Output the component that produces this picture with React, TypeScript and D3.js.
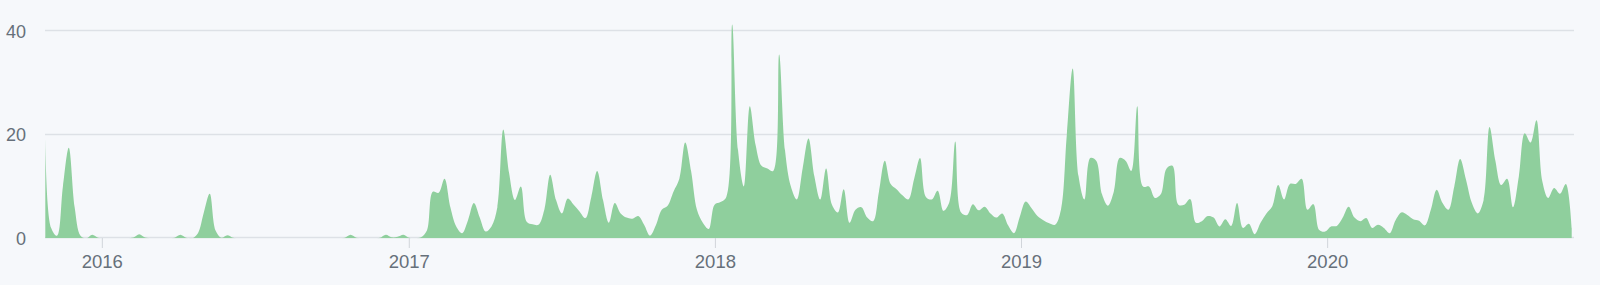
import React, { useEffect } from 'react';
import * as d3 from 'd3';

// First week (Sunday) of the weekly series
const START_WEEK = [2015, 9, 25];

// Weekly commit counts, Oct 2015 – Oct 2020
const WEEKLY_COMMITS: number[] = [
  20, 2, 0.5, 10, 17.5, 6, 0.5, 0, 0.7, 0.1,
  0, 0, 0, 0, 0, 0.15, 0.8, 0.15, 0, 0,
  0, 0, 0.1, 0.7, 0.1, 0, 1, 5, 8.6, 1.5,
  0.1, 0.6, 0.1, 0, 0, 0, 0, 0, 0, 0,
  0, 0, 0, 0, 0, 0, 0, 0, 0, 0,
  0, 0.1, 0.7, 0.1, 0, 0, 0, 0.1, 0.7, 0.2,
  0.3, 0.7, 0.1, 0, 0.2, 1.5, 9, 8.8, 11.5, 6,
  2.3, 1, 3.5, 6.8, 4, 1.3, 2.3, 6, 21, 12.6,
  7.4, 10, 3.2, 2.7, 2.6, 5.5, 12.3, 7.4, 4.8, 7.7,
  6.5, 5.2, 3.9, 8, 13, 7.4, 3, 6.8, 4.8, 4,
  3.8, 4.3, 2.6, 0.5, 2.5, 5.5, 6.3, 9, 11.5, 18.5,
  13, 5.5, 3, 1.8, 6.5, 7, 8, 41.3, 17, 10,
  25.5, 18, 14, 13.5, 13, 35.5, 17, 10, 7.5, 13.5,
  19.3, 12, 7.5, 13.5, 6.5, 5, 9.5, 3, 5.5, 6,
  4, 3.3, 9, 15, 10.5, 9.5, 8.3, 7.5, 11.5, 15.5,
  8, 7.5, 9.2, 5.3, 7, 18.7, 5, 4.5, 6.6, 5.4,
  6.1, 4.8, 4, 4.8, 2.5, 1, 4.2, 7.1, 5.8, 4.3,
  3.5, 2.9, 2.6, 5.5, 20, 32.8, 12, 7.5, 15.5, 15,
  8.5, 6.3, 9, 15.5, 15, 13, 25.5, 10, 10, 7.8,
  8.5, 13.5, 14, 6.5, 6.5, 7.6, 3, 3.3, 4.3, 4,
  2.3, 3.7, 2.4, 6.8, 2, 2.8, 0.8, 3, 4.8, 6.2,
  10.3, 7.5, 10.5, 10.5, 11.5, 5.5, 6.6, 1.6, 1.3, 2.3,
  2.4, 4, 6.1, 4, 3.3, 3.9, 2, 2.6, 2, 1,
  3.5, 5, 4.5, 3.7, 3.4, 2.5, 5.5, 9.4, 6.8, 5.5,
  10, 15.3, 11.3, 6.8, 4.8, 7.4, 21.5, 15, 10.3, 11.5,
  6, 12, 20.3, 18.5, 22.8, 11, 7.8, 9.7, 8.6, 10.5,
  2,
];

const Y_TICKS = [0, 20, 40];
const YEAR_TICKS = ['2016', '2017', '2018', '2019', '2020'];

export default function App() {
  useEffect(() => {
    document.body.style.margin = '0';
    document.body.style.background = '#f6f8fb';
  }, []);

  const W = 1600;
  const H = 285;
  const start = new Date(START_WEEK[0], START_WEEK[1], START_WEEK[2]);
  const dates = WEEKLY_COMMITS.map((_, i) => d3.timeWeek.offset(start, i));

  const x = d3
    .scaleTime()
    .domain([dates[0], dates[dates.length - 1]])
    .range([45.3, 1571.7]);
  const y = d3.scaleLinear().domain([0, 40]).range([238.3, 31.3]);

  const area = d3
    .area<number>()
    .x((_, i) => x(dates[i]))
    .y0(y(0))
    .y1((d) => y(d))
    .curve(d3.curveCatmullRom.alpha(0.5));

  const font = '"Liberation Sans", Arial, sans-serif';

  return (
    <svg
      width={W}
      height={H}
      style={{ position: 'absolute', left: 0, top: 0, display: 'block' }}
    >
      <defs>
        <clipPath id="plot-clip">
          <rect x={40} y={0} width={1540} height={y(0)} />
        </clipPath>
      </defs>
      <rect x={0} y={0} width={W} height={H} fill="#f6f8fb" />
      {Y_TICKS.map((t) => (
        <g key={t}>
          <line
            x1={45}
            x2={1574}
            y1={Math.round(y(t)) - 0.5}
            y2={Math.round(y(t)) - 0.5}
            stroke="#dde1e6"
            strokeWidth={1.6}
          />
          <text
            x={26}
            y={y(t)}
            dy="0.35em"
            textAnchor="end"
            fontFamily={font}
            fontSize={18}
            fill="#66707a"
          >
            {t}
          </text>
        </g>
      ))}
      <path
        d={area(WEEKLY_COMMITS) || ''}
        fill="#8fcf9d"
        clipPath="url(#plot-clip)"
      />
      {YEAR_TICKS.map((yr) => {
        const xx = x(new Date(+yr, 0, 1));
        return (
          <g key={yr}>
            <line
              x1={xx}
              x2={xx}
              y1={238}
              y2={248}
              stroke="#d1d5da"
              strokeWidth={1}
            />
            <text
              x={xx}
              y={268}
              textAnchor="middle"
              fontFamily={font}
              fontSize={18.5}
              fill="#66707a"
            >
              {yr}
            </text>
          </g>
        );
      })}
    </svg>
  );
}
